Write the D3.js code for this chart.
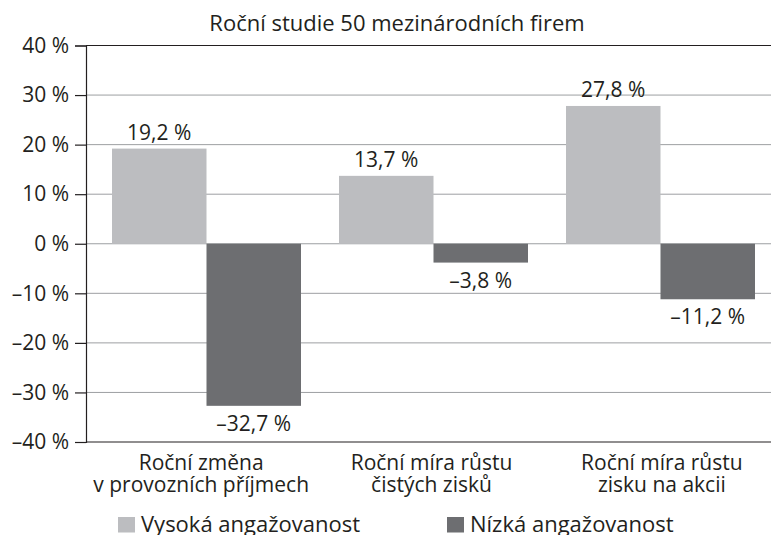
<!DOCTYPE html>
<html><head><meta charset="utf-8">
<script src="https://cdn.jsdelivr.net/npm/d3@7/dist/d3.min.js"></script>
<style>body{margin:0;background:#fff}svg{display:block}text{font-family:"Open Sans",sans-serif;fill:#231f20}</style>
</head><body><svg id="c" width="771" height="535"></svg>
<script>
const title = "Roční studie 50 mezinárodních firem";
const categories = [["Roční změna","v provozních příjmech"],["Roční míra růstu","čistých zisků"],["Roční míra růstu","zisku na akcii"]];
const seriesNames = ["Vysoká angažovanost","Nízká angažovanost"];
const highValues = [19.2, 13.7, 27.8];
const lowValues = [-32.7, -3.8, -11.2];
const yTicks = [-40,-30,-20,-10,0,10,20,30,40];
const colors = ["#bcbdc0","#6d6e71"];

const svg = d3.select("#c");
const pLeft = 86, pRight = 771, pTop = 45.5, pBottom = 442;
const y = d3.scaleLinear().domain([-40,40]).range([pBottom, pTop]);
const x = d3.scaleBand().domain(d3.range(categories.length)).range([93, 774]).paddingInner(0.1674).paddingOuter(0.0837);
const xLab = d3.scaleBand().domain(d3.range(categories.length)).range([86, 777]);
const xs = d3.scaleBand().domain([0,1]).range([0, x.bandwidth()]);
const fmt = v => (v < 0 ? "\u2013" : "") + Math.abs(v).toFixed(1).replace(".", ",") + " %";
const fmtTick = v => (v < 0 ? "\u2013" : "") + Math.abs(v) + " %";

// grid
svg.append("g").selectAll("line").data(yTicks.filter(t => t !== 40 && t !== -40)).join("line")
  .attr("x1", pLeft).attr("x2", pRight).attr("y1", d => y(d)).attr("y2", d => y(d))
  .attr("stroke", "#9d9fa2").attr("stroke-width", 1);
svg.append("line").attr("x1", pLeft).attr("x2", pRight).attr("y1", y(40)).attr("y2", y(40)).attr("stroke", "#231f20").attr("stroke-width", 1.2);
svg.append("line").attr("x1", pLeft).attr("x2", pRight).attr("y1", y(-40)).attr("y2", y(-40)).attr("stroke", "#231f20").attr("stroke-width", 1.2);

// bars
const data = categories.map((c, i) => [highValues[i], lowValues[i]]);
const groups = svg.append("g").selectAll("g").data(data).join("g").attr("transform", (d, i) => `translate(${x(i)},0)`);
groups.selectAll("rect").data(d => d).join("rect")
  .attr("x", (d, j) => xs(j)).attr("width", xs.bandwidth())
  .attr("y", d => y(Math.max(0, d))).attr("height", d => Math.abs(y(d) - y(0)))
  .attr("fill", (d, j) => colors[j]);
groups.selectAll("text").data(d => d).join("text")
  .attr("x", (d, j) => xs(j) + xs.bandwidth() / 2)
  .attr("y", d => d >= 0 ? y(d) - 9 : y(d) + 25)
  .attr("text-anchor", "middle").attr("font-size", 21).text(fmt);

// y axis
const ya = d3.axisLeft(y).tickValues(yTicks).tickFormat(fmtTick).tickSize(11).tickPadding(6);
const yg = svg.append("g").attr("transform", `translate(${pLeft},0)`).call(ya);
yg.select(".domain").attr("stroke", "#231f20").attr("stroke-width", 1.2);
yg.selectAll(".tick line").attr("stroke", "#231f20").attr("stroke-width", 1.2);
yg.selectAll(".tick text").attr("font-size", 21).attr("fill", "#231f20").attr("font-family", '"Open Sans",sans-serif');

// x labels (one text per line)
const labelLines = categories.flatMap((c, i) => c.map((t, k) => ({t, i, k})));
svg.append("g").selectAll("text").data(labelLines).join("text")
  .attr("text-anchor", "middle").attr("font-size", 21)
  .attr("x", d => xLab(d.i) + xLab.bandwidth() / 2)
  .attr("y", d => 470 + d.k * 21.5)
  .text(d => d.t);

// title
svg.append("text").attr("x", 397).attr("y", 31).attr("text-anchor", "middle").attr("font-size", 22).text(title);

// legend
const legX = [118, 447];
const lg = svg.append("g").selectAll("g").data(seriesNames).join("g").attr("transform", (d, i) => `translate(${legX[i]},0)`);
lg.append("rect").attr("x", 0).attr("y", 517).attr("width", 17).attr("height", 15.5).attr("fill", (d, i) => colors[i]);
lg.append("text").attr("x", 23).attr("y", 532).attr("font-size", 22).text(d => d);
</script></body></html>
